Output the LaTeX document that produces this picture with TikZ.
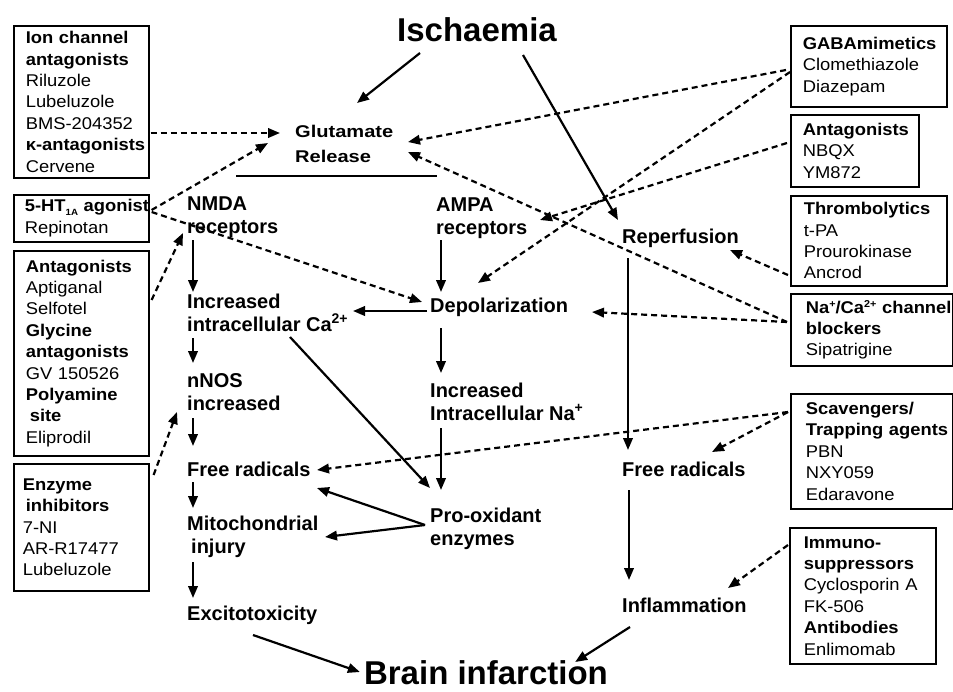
\documentclass[tikz,border=0pt]{standalone}
\usepackage{fontspec}
\setmainfont{Liberation Sans}
\newfontfamily\boxfont[FakeStretch=1.08]{Liberation Sans}
\newfontfamily\glufont[FakeStretch=1.18]{Liberation Sans}
\usetikzlibrary{arrows.meta,calc}
% box text: no hyphenation, no breaks after explicit hyphens
\newcommand\drugtextsetup{\boxfont\fontsize{17}{21.4}\selectfont\hyphenpenalty=10000 \exhyphenpenalty=10000 \relax}
% small raised / lowered indices inside the boxes
\newcommand\upidx[1]{\raisebox{6pt}{\fontsize{10}{10}\selectfont #1}}
\newcommand\lowidx[1]{\raisebox{-3pt}{\fontsize{9}{9}\selectfont #1}}

\tikzset{
  lab/.style={font=\fontsize{20}{23}\selectfont\bfseries, inner sep=0pt, align=left, anchor=base west},
  glulab/.style={lab, font=\glufont\fontsize{17}{25}\selectfont\bfseries},
  headline/.style={font=\fontsize{33}{36}\selectfont\bfseries, inner sep=0pt, anchor=base},
  drugbox/.style={draw, line width=1.6pt, anchor=north west, align=left, inner ysep=0pt,
    font=\drugtextsetup},
  arr/.style={line width=2.2pt, -{Triangle[length=12pt,width=9.5pt]}},
  darr/.style={arr, dash pattern=on 6pt off 4pt},
}

\begin{document}
\begin{tikzpicture}[x=1pt,y=-1pt]
\useasboundingbox (0,0) rectangle (953,691);
\fill[white] (0,0) rectangle (953,691);

% headline terms
\node[headline] (isch) at (477,41) {Ischaemia};
\node[headline] (brain) at (486,684) {Brain infarction};

% pathway steps (multi-line labels sit on the baseline of their last line)
\node[glulab] (glu) at (295,162) {Glutamate\\Release};
\node[lab] (nmda) at (187,233) {NMDA\\receptors};
\node[lab] (ampa) at (436,234) {AMPA\\receptors};
\node[lab] (reperf) at (622,243) {Reperfusion};
\node[lab] (ca) at (187,331) {Increased\\intracellular Ca\textsuperscript{2+}};
\node[lab] (depol) at (430,312) {Depolarization};
\node[lab] (nnos) at (187,410) {nNOS\\increased};
\node[lab] (na) at (430,420) {Increased\\Intracellular Na\textsuperscript{+}};
\node[lab] (frl) at (187,476) {Free radicals};
\node[lab] (frr) at (622,476) {Free radicals};
\node[lab] (prox) at (430,545) {Pro-oxidant\\enzymes};
\node[lab] (mito) at (187,553) {Mitochondrial\\\hspace*{4pt}injury};
\node[lab] (exc) at (187,620) {Excitotoxicity};
\node[lab] (infl) at (622,612) {Inflammation};

% drug classes, left column
\node[drugbox, text width=111pt, inner xsep=12pt, minimum height=152pt] (ionbox) at (13,25)
  {\textbf{Ion~channel}\\\textbf{antagonists}\\Riluzole\\Lubeluzole\\BMS-204352\\\textbf{κ-antagonists}\\Cervene};
\node[drugbox, text width=113pt, inner xsep=11pt, minimum height=47pt] (hbox) at (13,194)
  {\textbf{5-HT\lowidx{1A}~agonist}\\Repinotan};
\node[drugbox, text width=111pt, inner xsep=12pt, minimum height=205pt] (antbox) at (13,250)
  {\textbf{Antagonists}\\Aptiganal\\Selfotel\\\textbf{Glycine}\\\textbf{antagonists}\\GV~150526\\\textbf{Polyamine}\\\textbf{\hspace*{4pt}site}\\Eliprodil};
\node[drugbox, text width=117pt, inner xsep=9pt, minimum height=127pt] (enzbox) at (13,463)
  {\textbf{Enzyme}\\\textbf{\hspace*{3pt}inhibitors}\\7-NI\\AR-R17477\\Lubeluzole};

% drug classes, right column
\node[drugbox, text width=132pt, inner xsep=12pt, minimum height=81pt] (gababox) at (790,25)
  {\textbf{GABAmimetics}\\Clomethiazole\\Diazepam};
\node[drugbox, text width=104pt, inner xsep=12pt, minimum height=72pt] (nbqxbox) at (790,114)
  {\textbf{Antagonists}\\NBQX\\YM872};
\node[drugbox, text width=130pt, inner xsep=13pt, minimum height=90pt] (thrbox) at (790,195)
  {\textbf{Thrombolytics}\\t-PA\\Prourokinase\\Ancrod};
\node[drugbox, text width=132pt, inner xsep=15pt, minimum height=72pt] (nabox) at (790,293)
  {\textbf{Na\upidx{+}/Ca\upidx{2+}~channel}\\\textbf{blockers}\\Sipatrigine};
\node[drugbox, text width=132pt, inner xsep=15pt, minimum height=115pt] (scavbox) at (790,393)
  {\textbf{Scavengers/}\\\textbf{Trapping~agents}\\PBN\\NXY059\\Edaravone};
\node[drugbox, text width=118pt, inner xsep=14pt, minimum height=136pt] (immbox) at (789,527)
  {\textbf{Immuno-}\\\textbf{suppressors}\\Cyclosporin~A\\FK-506\\\textbf{Antibodies}\\Enlimomab};

% rule under glutamate release
\draw[line width=1.5pt] ($(glu.base west)+(-59,14)$) coordinate (divl) -- ($(glu.base west)+(142,14)$) coordinate (divr);

% solid pathway arrows
\draw[arr] ($(isch.base west)+(23,12)$) -- ($(glu.base west)+(62,-59)$);
\draw[arr] ($(isch.base west)+(126,14)$) -- ($(reperf.base west)+(-4,-23)$);
\draw[arr] ($(nmda.base west)+(6,7)$) -- ($(ca.base west)+(6,-39)$);
\draw[arr] ($(ca.base west)+(6,7)$) -- ($(nnos.base west)+(6,-47)$);
\draw[arr] ($(nnos.base west)+(6,8)$) -- ($(frl.base west)+(6,-30)$);
\draw[arr] ($(frl.base west)+(6,6)$) -- ($(mito.base west)+(6,-45)$);
\draw[arr] ($(mito.base west)+(6,9)$) -- ($(exc.base west)+(6,-22)$);
\draw[arr] ($(ampa.base west)+(5,6)$) -- ($(depol.base west)+(11,-20)$);
\draw[arr] ($(depol.base west)+(-3,-1)$) -- ($(ca.base west)+(166,-20)$);
\draw[arr] ($(depol.base west)+(11,16)$) -- ($(na.base west)+(11,-47)$);
\draw[arr] ($(na.base west)+(11,8)$) -- ($(prox.base west)+(11,-55)$);
\draw[arr] ($(ca.base west)+(103,6)$) -- ($(prox.base west)+(0,-57)$);
\draw[arr] ($(prox.base west)+(-5,-20)$) -- ($(frl.base west)+(130,12)$);
\draw[arr] ($(prox.base west)+(-5,-20)$) -- ($(mito.base west)+(138,-16)$);
\draw[arr] ($(reperf.base west)+(6,15)$) -- ($(frr.base west)+(6,-26)$);
\draw[arr] ($(frr.base west)+(7,14)$) -- ($(infl.base west)+(7,-32)$);
\draw[arr] ($(exc.base west)+(66,15)$) -- ($(brain.base west)+(-4,-12)$);
\draw[arr] ($(infl.base west)+(8,15)$) -- ($(brain.base east)+(-33,-22)$);

% dashed drug actions
\draw[darr] ($(ionbox.north east)+(1,108)$) -- ($(glu.base west)+(-15,-29)$);
\draw[darr] ($(hbox.north east)+(2,16)$) -- ($(glu.base west)+(-27,-19)$);
\draw[darr] ($(hbox.north east)+(2,18)$) -- ($(depol.base west)+(-8,-10)$);
\draw[darr] ($(antbox.north east)+(2,50)$) -- ($(nmda.base west)+(-4,0)$);
\draw[darr] ($(enzbox.north east)+(4,12)$) -- ($(nnos.base west)+(-10,2)$);
\draw[darr] ($(gababox.north west)+(-4,45)$) -- ($(glu.base west)+(113,-20)$);
\draw[darr] ($(gababox.north west)+(0,47)$) -- ($(depol.base west)+(48,-29)$);
\draw[darr] ($(nbqxbox.north west)+(-3,29)$) -- ($(ampa.base west)+(104,-14)$);
\draw[darr] ($(nabox.north west)+(-3,29)$) -- ($(glu.base west)+(113,-10)$);
\draw[darr] ($(thrbox.north west)+(-2,80)$) -- ($(reperf.base west)+(108,7)$);
\draw[darr] ($(nabox.north west)+(-3,29)$) -- ($(depol.base west)+(162,0)$);
\draw[darr] ($(scavbox.north west)+(-2,19)$) -- ($(frl.base west)+(130,-6)$);
\draw[darr] ($(scavbox.north west)+(-2,19)$) -- ($(frr.base west)+(90,-24)$);
\draw[darr] ($(immbox.north west)+(-1,18)$) -- ($(infl.base west)+(106,-24)$);
\end{tikzpicture}
\end{document}
